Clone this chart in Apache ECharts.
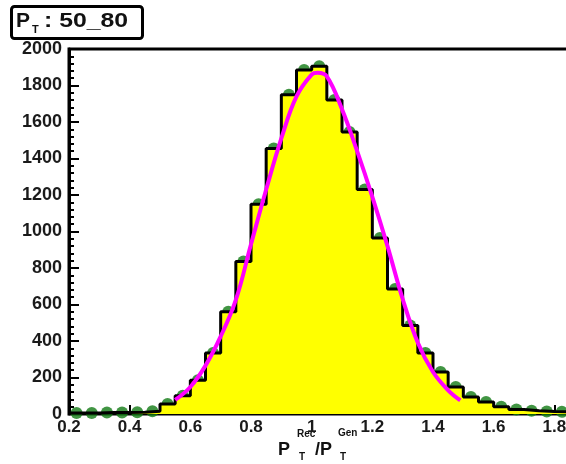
<!DOCTYPE html>
<html>
<head>
<meta charset="utf-8">
<script src="https://cdn.jsdelivr.net/npm/echarts@6/dist/echarts.min.js"></script>
<style>
  html, body { margin: 0; padding: 0; background: #ffffff; }
  #chart { width: 566px; height: 464px; }
</style>
</head>
<body>
<div id="chart"></div>
<script>
// Response histogram PT(Rec)/PT(Gen), jets with 50 < PT < 80
const binLow = [0.20, 0.25, 0.30, 0.35, 0.40, 0.45, 0.50, 0.55, 0.60, 0.65, 0.70,
                0.75, 0.80, 0.85, 0.90, 0.95, 1.00, 1.05, 1.10, 1.15, 1.20, 1.25,
                1.30, 1.35, 1.40, 1.45, 1.50, 1.55, 1.60, 1.65, 1.70, 1.75, 1.80];
const binWidth = 0.05;
const counts = [5, 5, 8, 8, 10, 15, 55, 100, 185, 334, 560,
                835, 1150, 1455, 1750, 1885, 1905, 1720, 1545, 1230, 965, 685,
                485, 334, 230, 148, 93, 66, 40, 25, 18, 14, 12];

// Gaussian fit curve, sampled along its drawn range
const fitX = [0.55, 0.60, 0.65, 0.70, 0.75, 0.80, 0.85, 0.90, 0.95, 1.00, 1.02,
              1.05, 1.10, 1.15, 1.20, 1.25, 1.30, 1.35, 1.40, 1.45, 1.49];
const fitY = [77, 148, 265, 425, 625, 930, 1230, 1510, 1740, 1860, 1870,
              1850, 1670, 1440, 1190, 920, 630, 390, 230, 130, 75];

const xTicks = [0.2, 0.4, 0.6, 0.8, 1.0, 1.2, 1.4, 1.6, 1.8, 2.0];
const yTicks = [0, 200, 400, 600, 800, 1000, 1200, 1400, 1600, 1800, 2000];

const FONT = '"Liberation Sans", Arial, sans-serif';

// Outline of the histogram: two points per bin (left and right edge)
const stepPts = [];
binLow.forEach((lo, i) => {
  stepPts.push([lo, counts[i]]);
  stepPts.push([+(lo + binWidth).toFixed(2), counts[i]]);
});
const markers = binLow.map((lo, i) => [+(lo + binWidth / 2).toFixed(3), counts[i]]);
const fitPts = fitX.map((x, i) => [x, fitY[i]]);

const chart = echarts.init(document.getElementById('chart'), null, { renderer: 'canvas' });

chart.setOption({
  animation: false,
  backgroundColor: '#ffffff',
  grid: {
    left: 69, top: 49, width: 546, height: 365,
    outerBoundsMode: 'none',
    containLabel: false,
    show: true, borderColor: '#000000', borderWidth: 3, backgroundColor: 'transparent'
  },
  xAxis: {
    type: 'value',
    min: xTicks[0], max: xTicks[xTicks.length - 1],
    interval: xTicks[1] - xTicks[0],
    axisLine: { show: true, lineStyle: { color: '#000000', width: 2 } },
    axisTick: { show: true, inside: true, length: 9, lineStyle: { color: '#000000', width: 2 } },
    splitLine: { show: false },
    axisLabel: {
      color: '#1a1a1a', fontFamily: FONT, fontWeight: 'bold', fontSize: 17, margin: 5,
      formatter: (v) => String(+v.toFixed(1))
    }
  },
  yAxis: {
    type: 'value',
    min: yTicks[0], max: yTicks[yTicks.length - 1],
    interval: yTicks[1] - yTicks[0],
    axisLine: { show: true, lineStyle: { color: '#000000', width: 3 } },
    axisTick: { show: true, inside: true, length: 10, lineStyle: { color: '#000000', width: 2 } },
    minorTick: { show: true, splitNumber: 5, length: 5, lineStyle: { color: '#000000', width: 2 } },
    splitLine: { show: false },
    axisLabel: {
      color: '#1a1a1a', fontFamily: FONT, fontWeight: 'bold', fontSize: 18, margin: 7,
      formatter: (v) => String(v)
    }
  },
  series: [
    {
      name: 'markers',
      type: 'scatter',
      data: markers,
      symbol: 'circle',
      symbolSize: 12,
      itemStyle: { color: '#117a14' },
      z: 2
    },
    {
      name: 'histogram',
      type: 'line',
      data: stepPts,
      symbol: 'none',
      lineStyle: { color: '#000000', width: 3 },
      areaStyle: { color: '#ffff00', opacity: 1 },
      z: 3
    },
    {
      name: 'fit',
      type: 'line',
      data: fitPts,
      smooth: 0.4,
      symbol: 'none',
      lineStyle: { color: '#ff00ff', width: 4 },
      z: 4
    }
  ],
  graphic: [
    // label box in the top-left corner
    {
      type: 'rect', left: 10, top: 5,
      shape: { width: 131, height: 32, r: 3 },
      style: { fill: '#ffffff', stroke: '#000000', lineWidth: 3 }
    },
    {
      type: 'text', x: 16, y: 21,
      style: { text: 'P', fill: '#111', font: 'bold 21px ' + FONT, verticalAlign: 'middle' }
    },
    {
      type: 'text', x: 32, y: 30,
      style: { text: 'T', fill: '#111', font: 'bold 11px ' + FONT, verticalAlign: 'middle' }
    },
    {
      type: 'text', x: 44, y: 21, scaleX: 1.24,
      style: { text: ': 50_80', fill: '#111', font: 'bold 20px ' + FONT, verticalAlign: 'middle' }
    },
    // x-axis title: P_T^Rec / P_T^Gen
    {
      type: 'text', x: 278, y: 450,
      style: { text: 'P', fill: '#111', font: 'bold 18px ' + FONT, verticalAlign: 'middle' }
    },
    {
      type: 'text', x: 297, y: 434,
      style: { text: 'Rec', fill: '#111', font: 'bold 10px ' + FONT, verticalAlign: 'middle' }
    },
    {
      type: 'text', x: 299, y: 457,
      style: { text: 'T', fill: '#111', font: 'bold 10px ' + FONT, verticalAlign: 'middle' }
    },
    {
      type: 'text', x: 315, y: 450,
      style: { text: '/P', fill: '#111', font: 'bold 18px ' + FONT, verticalAlign: 'middle' }
    },
    {
      type: 'text', x: 338, y: 433,
      style: { text: 'Gen', fill: '#111', font: 'bold 10px ' + FONT, verticalAlign: 'middle' }
    },
    {
      type: 'text', x: 340, y: 457,
      style: { text: 'T', fill: '#111', font: 'bold 10px ' + FONT, verticalAlign: 'middle' }
    }
  ]
});
</script>
</body>
</html>
